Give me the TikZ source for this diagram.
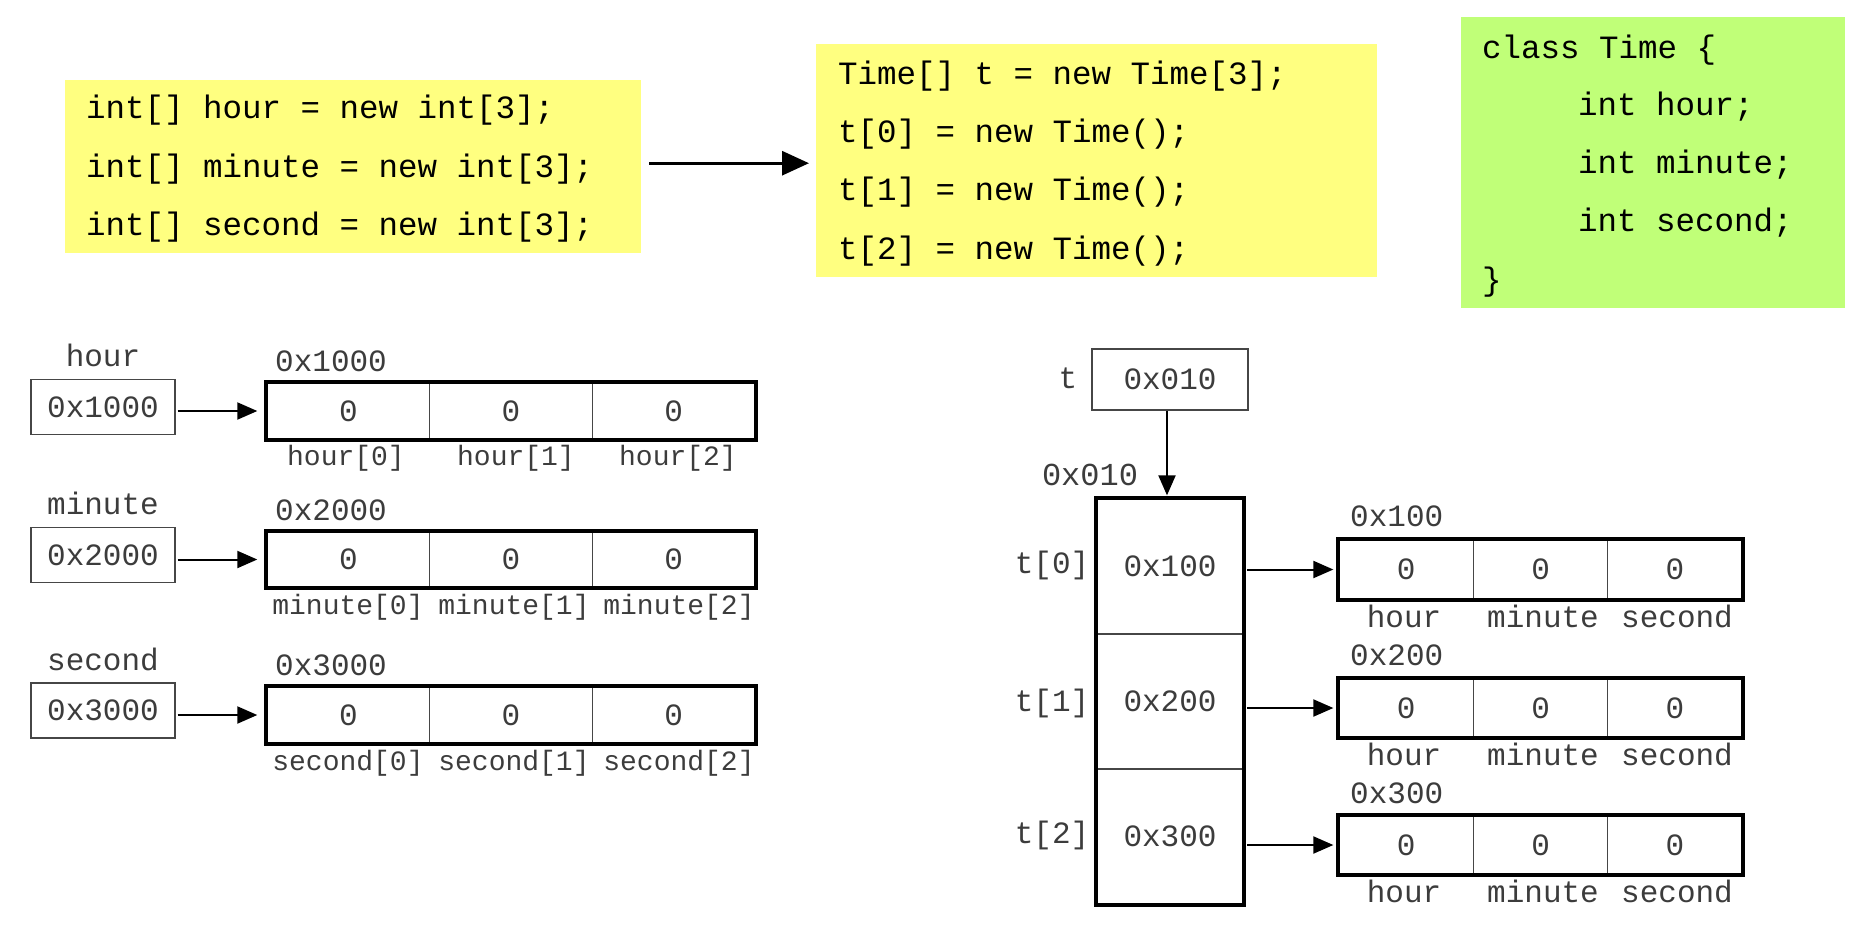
\documentclass[tikz,border=0pt]{standalone}
\usepackage{fontspec}
\usetikzlibrary{arrows.meta}
\newfontfamily\cmono{Liberation Mono}
\newcommand\codefont{\cmono\fontsize{32.5}{39}\selectfont}
\newcommand\lblfont{\cmono\fontsize{31}{37}\selectfont}
\newcommand\sublblfont{\cmono\fontsize{28}{34}\selectfont}
\definecolor{codeyellow}{RGB}{255,255,128}
\definecolor{codegreen}{RGB}{192,255,120}
\definecolor{lblgray}{RGB}{60,60,60}
\definecolor{boxgray}{RGB}{70,70,70}
\tikzset{
  codebg/.style={anchor=north west, inner sep=0pt, draw=none},
  codeln/.style={anchor=west, inner sep=0pt, font=\codefont, text=black, text height=23pt, text depth=7pt},
  lbl/.style={inner sep=0pt, font=\lblfont, text=lblgray, text height=22pt, text depth=6pt},
  sublbl/.style={inner sep=0pt, font=\sublblfont, text=lblgray, text height=20pt, text depth=6pt},
  namebox/.style={draw=boxgray, line width=1.3pt, inner sep=0pt, font=\lblfont, text=lblgray, minimum width=144pt, minimum height=55pt},
  lcell/.style={draw=boxgray, line width=1.3pt, inner sep=0pt, font=\lblfont, text=lblgray, minimum width=162.7pt, minimum height=56pt},
  tcell/.style={draw=boxgray, line width=1.3pt, inner sep=0pt, font=\lblfont, text=lblgray, minimum width=146pt, minimum height=135pt},
  ocell/.style={draw=boxgray, line width=1.3pt, inner sep=0pt, font=\lblfont, text=lblgray, minimum width=134.4pt, minimum height=59pt},
  arrbord/.style={line width=4pt, draw=black},
  ptr/.style={-{Triangle[length=20pt,width=17pt]}, line width=2pt, black},
  bigptr/.style={-{Triangle[length=27pt,width=24pt]}, line width=3pt, black}
}
\begin{document}
\begin{tikzpicture}[x=1pt,y=-1pt]
\useasboundingbox (0,0) rectangle (1866,930);

% ---------- code boxes ----------
\node[codebg, fill=codeyellow, minimum width=576pt, minimum height=173pt] (c1) at (65,80) {};
\node[codeln] (c1a) at (86,110.5) {int[] hour = new int[3];};
\node[codeln] (c1b) at (86,169.5) {int[] minute = new int[3];};
\node[codeln] (c1c) at (86,227.5) {int[] second = new int[3];};

\node[codebg, fill=codeyellow, minimum width=561pt, minimum height=233pt] (c2) at (816,44) {};
\node[codeln] (c2a) at (838,76.5) {Time[] t = new Time[3];};
\node[codeln] (c2b) at (838,134.5) {t[0] = new Time();};
\node[codeln] (c2c) at (838,192.5) {t[1] = new Time();};
\node[codeln] (c2d) at (838,251.5) {t[2] = new Time();};

\node[codebg, fill=codegreen, minimum width=384pt, minimum height=291pt] (c3) at (1461,17) {};
\node[codeln] (c3a) at (1482,50.5) {class Time \{};
\node[codeln] (c3b) at (1578,107.5) {int hour;};
\node[codeln] (c3c) at (1578,165.5) {int minute;};
\node[codeln] (c3d) at (1578,223.5) {int second;};
\node[codeln] (c3e) at (1482,282.5) {\}};

\draw[bigptr] ([xshift=8pt,yshift=3.5pt]c1.east) -- ([xshift=-7pt,yshift=3.5pt]c1.east -| c2.west);

% ---------- left: three int arrays ----------
\node[lbl] (hn) at (103,358) {hour};
\node[lbl] (mn) at (103,506) {minute};
\node[lbl] (sn) at (103,662) {second};
\node[namebox] (hb) at (103,407) {0x1000};
\node[namebox] (mb) at (103,555) {0x2000};
\node[namebox] (sb) at (103,710.5) {0x3000};

\node[lbl, anchor=west] (ha) at (275,363) {0x1000};
\node[lbl, anchor=west] (ma) at (275,512) {0x2000};
\node[lbl, anchor=west] (sa) at (275,667) {0x3000};

\node[lcell] (h0) at (348.3,411) {0};
\node[lcell] (h1) at (511,411) {0};
\node[lcell] (h2) at (673.7,411) {0};
\node[lcell] (m0) at (348.3,559.5) {0};
\node[lcell] (m1) at (511,559.5) {0};
\node[lcell] (m2) at (673.7,559.5) {0};
\node[lcell] (s0) at (348.3,715) {0};
\node[lcell] (s1) at (511,715) {0};
\node[lcell] (s2) at (673.7,715) {0};
\draw[arrbord] (h0.north west) rectangle (h2.south east);
\draw[arrbord] (m0.north west) rectangle (m2.south east);
\draw[arrbord] (s0.north west) rectangle (s2.south east);

\node[sublbl] (hl0) at (346,458) {hour[0]};
\node[sublbl] (hl1) at (516,458) {hour[1]};
\node[sublbl] (hl2) at (678,458) {hour[2]};
\node[sublbl] (ml0) at (348,607) {minute[0]};
\node[sublbl] (ml1) at (514,607) {minute[1]};
\node[sublbl] (ml2) at (679,607) {minute[2]};
\node[sublbl] (sl0) at (348,763) {second[0]};
\node[sublbl] (sl1) at (514,763) {second[1]};
\node[sublbl] (sl2) at (679,763) {second[2]};

\draw[ptr, shorten <=2pt, shorten >=9pt] (hb.east |- h0.west) -- (h0.west);
\draw[ptr, shorten <=2pt, shorten >=9pt] (mb.east |- m0.west) -- (m0.west);
\draw[ptr, shorten <=2pt, shorten >=9pt] (sb.east |- s0.west) -- (s0.west);

% ---------- right: Time array ----------
\node[lbl] (tn) at (1068,380) {t};
\node[namebox, minimum width=156pt, minimum height=61pt] (tb) at (1170,379.5) {0x010};
\node[lbl, font=\cmono\fontsize{32}{38}\selectfont] (ta) at (1090,477) {0x010};

\node[tcell] (t0) at (1170,566.5) {0x100};
\node[tcell] (t1) at (1170,701.5) {0x200};
\node[tcell] (t2) at (1170,836.5) {0x300};
\draw[arrbord] (t0.north west) rectangle (t2.south east);

\node[lbl] (tl0) at (1052,565) {t[0]};
\node[lbl] (tl1) at (1052,703) {t[1]};
\node[lbl] (tl2) at (1052,835) {t[2]};

\draw[ptr, shorten >=3pt] ([xshift=-3pt]tb.south) -- ([xshift=-3pt]tb.south |- t0.north);

% objects
\node[lbl, anchor=west] (oa0) at (1350,518) {0x100};
\node[lbl, anchor=west] (oa1) at (1350,657) {0x200};
\node[lbl, anchor=west] (oa2) at (1350,795) {0x300};

\node[ocell] (o00) at (1406.2,569.5) {0};
\node[ocell] (o01) at (1540.6,569.5) {0};
\node[ocell] (o02) at (1675.0,569.5) {0};
\node[ocell] (o10) at (1406.2,708) {0};
\node[ocell] (o11) at (1540.6,708) {0};
\node[ocell] (o12) at (1675.0,708) {0};
\node[ocell] (o20) at (1406.2,845) {0};
\node[ocell] (o21) at (1540.6,845) {0};
\node[ocell] (o22) at (1675.0,845) {0};
\draw[arrbord] (o00.north west) rectangle (o02.south east);
\draw[arrbord] (o10.north west) rectangle (o12.south east);
\draw[arrbord] (o20.north west) rectangle (o22.south east);

\node[lbl] (ol00) at (1404,619) {hour};
\node[lbl] (ol01) at (1543,619) {minute};
\node[lbl] (ol02) at (1677,619) {second};
\node[lbl] (ol10) at (1404,757) {hour};
\node[lbl] (ol11) at (1543,757) {minute};
\node[lbl] (ol12) at (1677,757) {second};
\node[lbl] (ol20) at (1404,894) {hour};
\node[lbl] (ol21) at (1543,894) {minute};
\node[lbl] (ol22) at (1677,894) {second};

\draw[ptr, shorten <=3.5pt, shorten >=5pt] (t0.east |- o00.west) -- (o00.west);
\draw[ptr, shorten <=3.5pt, shorten >=5pt] (t1.east |- o10.west) -- (o10.west);
\draw[ptr, shorten <=3.5pt, shorten >=5pt] (t2.east |- o20.west) -- (o20.west);
\end{tikzpicture}
\end{document}
